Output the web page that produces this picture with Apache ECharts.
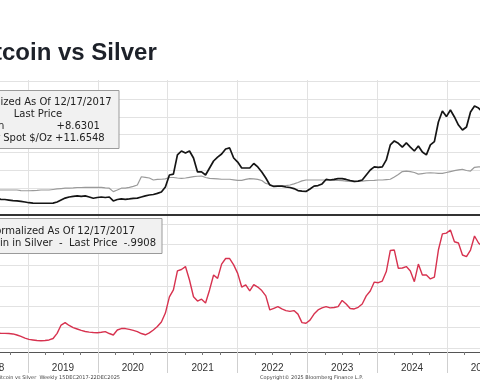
<!DOCTYPE html>
<html><head><meta charset="utf-8">
<script src="https://cdn.jsdelivr.net/npm/echarts@6/dist/echarts.min.js"></script>
<style>html,body{margin:0;padding:0;background:#fff}#c{width:480px;height:384px}</style>
</head><body><div id="c"></div>
<script>
// weekly data, sampled every 3 weeks
const startDate = '2018-07-01';
const stepDays = 21;
const yearLabels = [2018, 2019, 2020, 2021, 2022, 2023, 2024, 2025];

// Bitcoin, normalized (top panel)
const btc = [0.46,0.44,0.39,0.38,0.35,0.32,0.30,0.27,0.24,0.20,
0.18,0.17,0.17,0.17,0.17,0.18,0.24,0.35,0.46,0.52,
0.55,0.58,0.55,0.58,0.52,0.45,0.49,0.52,0.49,0.52,
0.30,0.38,0.41,0.39,0.41,0.44,0.46,0.52,0.58,0.63,
0.66,0.72,0.80,1.08,1.75,1.80,2.87,3.09,2.98,3.09,
2.70,1.92,1.92,1.75,2.14,2.53,2.75,2.92,3.20,3.26,
2.70,2.47,2.14,2.14,2.14,2.39,2.20,1.92,1.58,1.19,
1.11,1.13,1.13,1.08,1.05,0.99,0.88,0.85,0.83,0.97,
1.13,1.16,1.25,1.50,1.47,1.50,1.55,1.55,1.50,1.44,
1.39,1.41,1.47,1.75,2.03,2.20,2.17,2.20,2.59,3.43,
3.65,3.52,3.31,3.54,3.31,3.09,3.37,3.03,2.87,3.43,
3.61,4.71,5.32,5.01,5.38,4.99,4.54,4.26,4.43,5.27,
5.60,5.49,5.27];

// Silver Spot $/Oz, normalized (top panel)
const silver = [0.91,0.91,0.91,0.91,0.91,0.91,0.91,0.88,0.87,0.87,
0.88,0.89,0.91,0.91,0.91,0.94,0.97,0.99,1.01,1.02,
1.03,1.05,1.05,1.06,1.06,1.06,1.06,1.06,1.03,1.01,
0.82,0.91,1.01,1.02,1.06,1.11,1.19,1.65,1.62,1.58,
1.47,1.50,1.51,1.53,1.61,1.61,1.58,1.56,1.58,1.62,
1.66,1.68,1.69,1.61,1.56,1.55,1.53,1.51,1.51,1.51,
1.48,1.45,1.45,1.50,1.55,1.53,1.50,1.44,1.28,1.22,
1.13,1.13,1.13,1.16,1.19,1.25,1.33,1.42,1.47,1.47,
1.47,1.47,1.47,1.47,1.47,1.45,1.44,1.43,1.41,1.39,
1.37,1.40,1.41,1.43,1.44,1.45,1.47,1.47,1.49,1.51,
1.64,1.78,1.94,1.97,1.94,1.89,1.80,1.83,1.86,1.87,
1.86,1.84,1.84,1.89,1.94,1.99,2.03,2.07,2.00,1.97,
2.18,2.20,2.22];

// Bitcoin in Silver (bottom panel)
const ratio = [0.73,0.73,0.71,0.71,0.70,0.68,0.63,0.56,0.48,0.42,
0.39,0.36,0.35,0.36,0.39,0.46,0.71,1.11,1.23,1.09,
0.99,0.92,0.85,0.80,0.77,0.75,0.74,0.76,0.79,0.70,
0.63,0.87,0.94,0.94,0.90,0.85,0.79,0.70,0.64,0.73,
0.87,1.04,1.26,1.69,2.47,2.81,3.73,3.80,3.94,3.29,
2.48,2.27,2.36,2.18,2.81,3.53,3.37,4.06,4.33,4.33,
4.02,3.61,2.95,3.05,2.76,3.07,2.95,2.78,2.52,1.84,
1.92,2.00,1.89,1.81,1.77,1.81,1.64,1.23,1.20,1.35,
1.64,1.84,1.94,2.00,1.94,1.96,2.00,2.30,2.13,1.91,
1.89,1.97,2.13,2.52,2.76,3.19,3.16,3.24,3.70,4.72,
4.74,3.86,3.87,3.94,3.73,3.21,4.06,3.53,3.53,3.34,
3.43,4.74,5.52,5.56,5.71,5.14,5.08,4.50,4.42,4.74,
5.42,5.08,4.90];

function decYear(i) {
  const t = Date.parse(startDate + 'T00:00:00Z') + i * stepDays * 86400000;
  const y = new Date(t).getUTCFullYear();
  const s = Date.UTC(y, 0, 1), e = Date.UTC(y + 1, 0, 1);
  return y + (t - s) / (e - s);
}
const pts = arr => arr.map((v, i) => [decYear(i), v]);

const XMIN = 2018, XMAX = 2026;
const gridL = -41.8, gridR = -36.8;
const gridCol = '#e2e2e2';
const gbase = {left: gridL, right: gridR, containLabel: false, outerBoundsMode: 'none'};

const chart = echarts.init(document.getElementById('c'), null, {renderer: 'canvas'});
chart.setOption({
  animation: false,
  backgroundColor: '#ffffff',
  title: {
    text: 'Bitcoin vs Silver', left: -35, top: 36,
    textStyle: {fontFamily: 'Liberation Sans', fontWeight: 'bold', fontSize: 24, color: '#1d2129'}
  },
  grid: [
    Object.assign({top: 80, height: 135}, gbase),
    Object.assign({top: 81, height: 125.3}, gbase),
    Object.assign({top: 216, height: 136}, gbase),
    Object.assign({top: 224, height: 124}, gbase)
  ],
  xAxis: [
    {gridIndex: 0, type: 'value', min: XMIN, max: XMAX, interval: 1,
     axisLine: {show: true, onZero: false, lineStyle: {color: '#333', width: 2}},
     axisTick: {show: false}, axisLabel: {show: false},
     splitLine: {show: true, lineStyle: {color: gridCol, width: 1}}},
    {gridIndex: 1, type: 'value', min: XMIN, max: XMAX, show: false},
    {gridIndex: 2, type: 'value', min: XMIN, max: XMAX, interval: 1,
     axisLine: {show: true, onZero: false, lineStyle: {color: '#555', width: 1}},
     axisTick: {show: true, length: 21, lineStyle: {color: '#cfcfcf'}},
     minorTick: {show: true, splitNumber: 4, length: 3, lineStyle: {color: '#777'}},
     axisLabel: {show: true, customValues: yearLabels.map(y => y + 0.5),
       formatter: v => String(Math.floor(v)), fontFamily: 'Liberation Sans', fontSize: 10, color: '#333', margin: 11},
     splitLine: {show: true, lineStyle: {color: gridCol, width: 1}}},
    {gridIndex: 3, type: 'value', min: XMIN, max: XMAX, show: false}
  ],
  yAxis: [
    {gridIndex: 0, type: 'value', min: 0, max: 1, show: false},
    {gridIndex: 1, type: 'value', min: 0, max: 7, interval: 1,
     axisLine: {show: false}, axisTick: {show: false}, axisLabel: {show: false},
     splitLine: {show: true, lineStyle: {color: gridCol, width: 1}}},
    {gridIndex: 2, type: 'value', min: 0, max: 1, show: false},
    {gridIndex: 3, type: 'value', min: 0, max: 6, interval: 1,
     axisLine: {show: false}, axisTick: {show: false}, axisLabel: {show: false},
     splitLine: {show: true, lineStyle: {color: gridCol, width: 1}}}
  ],
  series: [
    {name: 'Silver Spot $/Oz', type: 'line', xAxisIndex: 1, yAxisIndex: 1, data: pts(silver),
     showSymbol: false, lineStyle: {color: '#9a9a9a', width: 1.2}, z: 3},
    {name: 'Bitcoin', type: 'line', xAxisIndex: 1, yAxisIndex: 1, data: pts(btc),
     showSymbol: false, lineStyle: {color: '#151515', width: 1.7}, z: 4},
    {name: 'Bitcoin in Silver', type: 'line', xAxisIndex: 3, yAxisIndex: 3, data: pts(ratio),
     showSymbol: false, lineStyle: {color: '#d7324f', width: 1.4}, z: 4}
  ],
  graphic: [
    {type: 'rect', shape: {x: -43, y: 90.5, width: 162, height: 58}, z: 50,
     style: {fill: '#f1f1f1', stroke: '#9a9a9a', lineWidth: 1}},
    {type: 'text', x: 38, y: 102, z: 51, style: {text: 'Normalized As Of 12/17/2017', font: '10px "DejaVu Sans"', fill: '#222', align: 'center', verticalAlign: 'middle'}},
    {type: 'text', x: 38, y: 114, z: 51, style: {text: 'Last Price', font: '10px "DejaVu Sans"', fill: '#222', align: 'center', verticalAlign: 'middle'}},
    {type: 'text', x: -30, y: 126, z: 51, style: {text: 'Bitcoin', font: '10px "DejaVu Sans"', fill: '#222', align: 'left', verticalAlign: 'middle'}},
    {type: 'text', x: 56.5, y: 126, z: 51, style: {text: '+8.6301', font: '10px "DejaVu Sans"', fill: '#222', align: 'left', verticalAlign: 'middle'}},
    {type: 'text', x: -28, y: 138.5, z: 51, style: {text: 'Silver Spot $/Oz', font: '10px "DejaVu Sans"', fill: '#222', align: 'left', verticalAlign: 'middle'}},
    {type: 'text', x: 55, y: 138.5, z: 51, style: {text: '+11.6548', font: '10px "DejaVu Sans"', fill: '#222', align: 'left', verticalAlign: 'middle'}},

    {type: 'rect', shape: {x: -43, y: 218.5, width: 205, height: 35}, z: 50,
     style: {fill: '#f1f1f1', stroke: '#9a9a9a', lineWidth: 1}},
    {type: 'text', x: 135, y: 231, z: 51, style: {text: 'Normalized As Of 12/17/2017', font: '10px "DejaVu Sans"', fill: '#222', align: 'right', verticalAlign: 'middle'}},
    {type: 'text', x: 156, y: 243, z: 51, style: {text: 'Bitcoin in Silver  -  Last Price  -.9908', font: '10px "DejaVu Sans"', fill: '#222', align: 'right', verticalAlign: 'middle'}},

    {type: 'text', x: 120, y: 377.5, z: 51, style: {text: '(Bitcoin) Bitcoin vs Silver  Weekly 15DEC2017-22DEC2025', font: '5px "DejaVu Sans"', fill: '#444', align: 'right', verticalAlign: 'middle'}},
    {type: 'text', x: 260, y: 377.5, z: 51, style: {text: 'Copyright\u00A9 2025 Bloomberg Finance L.P.', font: '5px "DejaVu Sans"', fill: '#444', align: 'left', verticalAlign: 'middle'}}
  ]
});
</script>
</body></html>
